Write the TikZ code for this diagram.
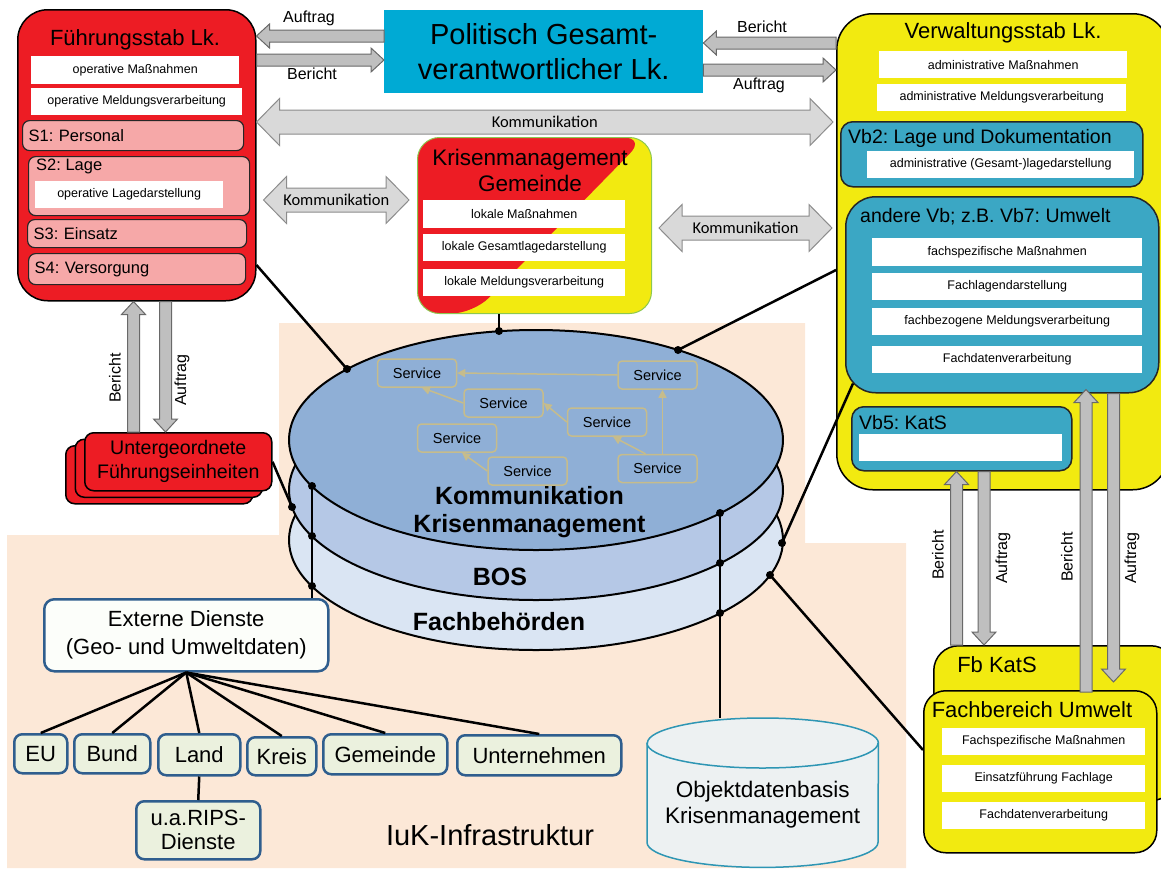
\documentclass[tikz,border=0pt]{standalone}
\usepackage{fontspec}
\setmainfont{Liberation Sans}
\newfontfamily\calibfont{Carlito}
\usetikzlibrary{arrows.meta,positioning,calc,shapes.geometric}
\definecolor{fsred}{RGB}{237,28,36}
\definecolor{fspink}{RGB}{246,168,168}
\definecolor{vwyellow}{RGB}{242,234,16}
\definecolor{vbteal}{RGB}{59,167,196}
\definecolor{polcyan}{RGB}{0,170,212}
\definecolor{iukpeach}{RGB}{252,232,215}
\definecolor{diskA}{RGB}{143,175,214}
\definecolor{diskB}{RGB}{181,200,230}
\definecolor{diskC}{RGB}{218,229,243}
\definecolor{svcline}{RGB}{198,188,140}
\definecolor{arrfill}{RGB}{191,191,191}
\definecolor{arrdraw}{RGB}{105,105,105}
\definecolor{komfill}{RGB}{217,217,217}
\definecolor{komdraw}{RGB}{140,140,140}
\definecolor{extblue}{RGB}{47,94,142}
\definecolor{extfill}{RGB}{252,254,250}
\definecolor{kidfill}{RGB}{235,241,222}
\definecolor{odbfill}{RGB}{237,241,242}
\definecolor{odbline}{RGB}{46,150,180}
\definecolor{kmggreen}{RGB}{140,200,80}
\frenchspacing

%% block arrow from #2 to #3 (tip at #3)
\newcommand{\blockarrow}[3][]{%
  \path[blockarr,#1] let \p1=(#2), \p2=(#3),
      \n1={atan2(\y2-\y1,\x2-\x1)}, \n2={veclen(\x2-\x1,\y2-\y1)} in
    ($(\p1)+(\n1+90:6pt)$)
    -- ($(\p1)+(\n1:\n2-13pt)+(\n1+90:6pt)$)
    -- ($(\p1)+(\n1:\n2-13pt)+(\n1+90:12pt)$)
    -- (\p2)
    -- ($(\p1)+(\n1:\n2-13pt)+(\n1-90:12pt)$)
    -- ($(\p1)+(\n1:\n2-13pt)+(\n1-90:6pt)$)
    -- ($(\p1)+(\n1-90:6pt)$) -- cycle;}
%% double block arrow between #2 and #3
\newcommand{\komarrow}[3][]{%
  \path[komarr,#1] let \p1=(#2), \p2=(#3),
      \n1={atan2(\y2-\y1,\x2-\x1)}, \n2={veclen(\x2-\x1,\y2-\y1)} in
    (\p1)
    -- ($(\p1)+(\n1:23pt)+(\n1+90:23.5pt)$)
    -- ($(\p1)+(\n1:23pt)+(\n1+90:12pt)$)
    -- ($(\p1)+(\n1:\n2-23pt)+(\n1+90:12pt)$)
    -- ($(\p1)+(\n1:\n2-23pt)+(\n1+90:23.5pt)$)
    -- (\p2)
    -- ($(\p1)+(\n1:\n2-23pt)+(\n1-90:23.5pt)$)
    -- ($(\p1)+(\n1:\n2-23pt)+(\n1-90:12pt)$)
    -- ($(\p1)+(\n1:23pt)+(\n1-90:12pt)$)
    -- ($(\p1)+(\n1:23pt)+(\n1-90:23.5pt)$)
    -- cycle;}

\begin{document}
\begin{tikzpicture}[x=1pt, y=-1pt,
  box/.style={anchor=north west, inner sep=0pt},
  redbox/.style={box, draw=black, line width=1.5pt, fill=fsred, rounded corners=30pt},
  pinkbox/.style={box, draw=black!85, line width=1.2pt, fill=fspink, rounded corners=7pt,
                  font=\fontsize{16.5}{19}\selectfont, align=left, inner xsep=6pt},
  stitle/.style={font=\fontsize{16.5}{19}\selectfont, inner sep=0pt},
  whitebox/.style={box, fill=white, font=\fontsize{12.5}{14}\selectfont},
  yelbox/.style={box, draw=black, line width=1.5pt, fill=vwyellow},
  tealbox/.style={box, draw=black!85, line width=1.5pt, fill=vbteal, rounded corners=12pt},
  ufebox/.style={box, draw=black, line width=1.5pt, fill=fsred, rounded corners=9pt,
                 minimum width=187pt, minimum height=58pt},
  title/.style={font=\fontsize{22}{26}\selectfont, inner sep=0pt},
  vbtitle/.style={font=\fontsize{19.5}{22}\selectfont, inner sep=0pt, anchor=west},
  disk/.style={ellipse, draw=black, line width=2pt, minimum width=494pt,
               minimum height=220pt, inner sep=0pt},
  disklbl/.style={font=\bfseries\fontsize{25}{28}\selectfont, align=center, inner sep=0pt},
  svc/.style={draw=svcline, line width=1.5pt, rounded corners=4pt, minimum width=79pt,
              minimum height=28pt, font=\fontsize{14.5}{16}\selectfont, inner sep=0pt},
  svcarr/.style={svcline, line width=1.5pt, -{Triangle[length=8pt, width=8pt]}},
  link/.style={line width=2.5pt, black},
  extbox/.style={box, draw=extblue, line width=2.5pt, rounded corners=10pt, fill=extfill,
                 font=\fontsize{22}{28}\selectfont, align=center},
  kid/.style={box, draw=extblue, line width=2.5pt, rounded corners=8pt, fill=kidfill,
              font=\fontsize{22}{24}\selectfont, align=center},
  blockarr/.style={fill=arrfill, draw=arrdraw, line width=1pt},
  komarr/.style={fill=komfill, draw=komdraw, line width=1pt},
  albl/.style={font=\fontsize{16}{18}\selectfont, inner sep=0pt},
  klbl/.style={font=\calibfont\fontsize{16.5}{18}\selectfont, inner sep=0pt},
]
\useasboundingbox (0,0) rectangle (1161,870);

%% IuK background
\fill[iukpeach] (279,323) -- (805,323) -- (805,543) -- (906,543) -- (906,868)
  -- (7,868) -- (7,535) -- (279,535) -- cycle;

%% communication layers
\node[disk, fill=diskC] (fbh) at (536,540) {};
\node[disk, fill=diskB] (bos) at (536,490) {};
\node[disk, fill=diskA] (kkm) at (536,440) {};
\node[disklbl] (kkmt) at (529.5,512) {Kommunikation\\Krisenmanagement};
\node[disklbl] (bost) at (500,577) {BOS};
\node[disklbl] (fbht) at (499,622) {Fachbehörden};

%% services
\node[svc] (sa) at (417,373) {Service};
\node[svc] (sb) at (503.5,403) {Service};
\node[svc] (sc) at (657.5,375) {Service};
\node[svc] (sd) at (607,422) {Service};
\node[svc] (se) at (457,438) {Service};
\node[svc] (sf) at (527.5,471) {Service};
\node[svc] (sg) at (657.5,468.5) {Service};
\draw[svcarr] (sc.west) -- (sa.east);
\draw[svcarr] (sb.west) -- ([xshift=5pt]sa.south);
\draw[svcarr] (sd.west) -- (sb.east);
\draw[svcarr] ([xshift=5pt]sg.north) -- ([xshift=5pt]sc.south);
\draw[svcarr] ([xshift=-12pt]sg.north) -- ([xshift=6pt]sd.south);
\draw[svcarr] (sf.west) -- ([xshift=5pt]se.south);

%% Fuehrungsstab
\node[redbox, minimum width=238pt, minimum height=291pt] (fs) at (17,9) {};
\node[title] (fst) at (135,40) {Führungsstab Lk.};
\node[whitebox, minimum width=208pt, minimum height=28pt] (fsm) at (31,56) {operative Maßnahmen};
\node[whitebox, minimum width=211pt, minimum height=27pt] (fsv) at (31,88) {operative Meldungsverarbeitung};
\node[pinkbox, text width=209pt, minimum height=30pt] (s1) at (22,120) {S1: Personal};
\node[pinkbox, minimum width=221pt, minimum height=59pt] (s2) at (28,156) {};
\node[stitle, below right=3pt and 8pt of s2.north west] (s2t) {S2: Lage};
\node[whitebox, minimum width=188pt, minimum height=27pt] (s2l) at (35,181) {operative Lagedarstellung};
\node[pinkbox, text width=207pt, minimum height=28pt] (s3) at (27,219) {S3: Einsatz};
\node[pinkbox, text width=205pt, minimum height=31pt] (s4) at (28,253) {S4: Versorgung};

%% Politisch Gesamtverantwortlicher
\node[box, fill=polcyan, minimum width=319pt, minimum height=83pt,
      font=\fontsize{29}{35}\selectfont, align=center] (pol) at (384,10)
  {Politisch Gesamt-\\verantwortlicher Lk.};

%% Verwaltungsstab
\node[yelbox, rounded corners=36pt, minimum width=332pt, minimum height=476pt] (vw) at (836,13) {};
\node[title] (vwt) at (1003,33) {Verwaltungsstab Lk.};
\node[whitebox, minimum width=248pt, minimum height=27pt] (vwm) at (879,51) {administrative Maßnahmen};
\node[whitebox, minimum width=249pt, minimum height=27pt] (vwv) at (877,84) {administrative Meldungsverarbeitung};
\node[tealbox, minimum width=302pt, minimum height=65pt] (vb2) at (840,121) {};
\node[vbtitle] (vb2t) at (848,138) {Vb2: Lage und Dokumentation};
\node[whitebox, minimum width=267pt, minimum height=27pt] (vb2l) at (867,151) {administrative (Gesamt-)lagedarstellung};
\node[tealbox, rounded corners=30pt, minimum width=313pt, minimum height=196pt] (vb7) at (845,196) {};
\node[vbtitle] (vb7t) at (860,217) {andere Vb; z.B. Vb7: Umwelt};
\node[whitebox, minimum width=270pt, minimum height=28pt] (vb7a) at (872,238) {fachspezifische Maßnahmen};
\node[whitebox, minimum width=270pt, minimum height=27pt] (vb7b) at (872,273) {Fachlagendarstellung};
\node[whitebox, minimum width=270pt, minimum height=27pt] (vb7c) at (872,308) {fachbezogene Meldungsverarbeitung};
\node[whitebox, minimum width=270pt, minimum height=27pt] (vb7d) at (872,346) {Fachdatenverarbeitung};
\node[tealbox, minimum width=220pt, minimum height=64pt] (vb5) at (851,406) {};
\node[vbtitle] (vb5t) at (859,423) {Vb5: KatS};
\node[whitebox, minimum width=203pt, minimum height=27pt] (vb5l) at (859,434) {};

%% Krisenmanagement Gemeinde
\node[box, minimum width=234pt, minimum height=176pt, rounded corners=22pt, fill=vwyellow,
      draw=kmggreen, line width=1pt,
      path picture={\fill[fsred] (path picture bounding box.north west)
        -- ([xshift=-6pt]path picture bounding box.north east)
        -- ([xshift=56pt]path picture bounding box.south west)
        -- (path picture bounding box.south west) -- cycle;}] (kmg) at (417,137) {};
\node[title, font=\fontsize{22.5}{26}\selectfont, align=center] (kmgt) at (530,170) {Krisenmanagement\\Gemeinde};
\node[whitebox, minimum width=202pt, minimum height=28pt] (kmga) at (423,200) {lokale Maßnahmen};
\node[whitebox, minimum width=202pt, minimum height=27pt] (kmgb) at (423,234) {lokale Gesamtlagedarstellung};
\node[whitebox, minimum width=202pt, minimum height=27pt] (kmgc) at (423,269) {lokale Meldungsverarbeitung};

%% Untergeordnete Fuehrungseinheiten
\node[ufebox] (ufe3) at (65,445) {};
\node[ufebox] (ufe2) at (74.5,438.5) {};
\node[ufebox, font=\fontsize{19.6}{24}\selectfont, align=center] (ufe) at (84,432)
  {Untergeordnete\\Führungseinheiten};

%% Externe Dienste
\node[extbox, minimum width=284pt, minimum height=72pt] (ext) at (43,598) {Externe Dienste\\(Geo- und Umweltdaten)};
\node[kid, minimum width=53pt, minimum height=39pt] (eu) at (13,733) {EU};
\node[kid, minimum width=76pt, minimum height=39pt] (bund) at (73,733) {Bund};
\node[kid, minimum width=82pt, minimum height=41pt] (land) at (157,733) {Land};
\node[kid, minimum width=69pt, minimum height=38pt] (kreis) at (246,736) {Kreis};
\node[kid, minimum width=124pt, minimum height=40pt] (gem) at (322,733) {Gemeinde};
\node[kid, minimum width=164pt, minimum height=40pt] (untn) at (456,734) {Unternehmen};
\node[kid, minimum width=124pt, minimum height=58pt] (rips) at (135,800) {u.a.RIPS-\\Dienste};
\foreach \k in {eu,bund,land,kreis,gem,untn}
  \draw[link] (ext.south) -- (\k.north);
\draw[link] (land.south) -- (rips.north);

\node[font=\fontsize{29}{34}\selectfont, inner sep=0pt] (iuk) at (490,835) {IuK-Infrastruktur};

%% Objektdatenbasis
\node[box, minimum width=231pt, minimum height=149pt] (odb) at (647,718) {};
\path[fill=odbfill, draw=odbline, line width=1.5pt]
  ([yshift=-25pt]odb.north west) -- ([yshift=25pt]odb.south west)
  arc[start angle=180, end angle=360, x radius=115.5pt, y radius=25pt]
  -- ([yshift=-25pt]odb.north east)
  arc[start angle=0, end angle=180, x radius=115.5pt, y radius=25pt] -- cycle;
\draw[odbline, line width=1.5pt] ([yshift=-25pt]odb.north west)
  arc[start angle=180, end angle=360, x radius=115.5pt, y radius=25pt];
\node[font=\fontsize{22.5}{26}\selectfont, align=center, inner sep=0pt] (odbt)
  at ($(odb.center)+(0,12)$) {Objektdatenbasis\\Krisenmanagement};

%% Fb KatS and Fachbereich Umwelt
\node[yelbox, rounded corners=25pt, minimum width=242pt, minimum height=155pt] (fbk) at (933,645) {};
\node[title] (fbkt) at (997,665) {Fb KatS};
\node[yelbox, rounded corners=22pt, minimum width=233pt, minimum height=162pt] (fbu) at (923,690) {};
\node[title] (fbut) at (1032,710) {Fachbereich Umwelt};
\node[whitebox, minimum width=203pt, minimum height=27pt] (fbua) at (942,728) {Fachspezifische Maßnahmen};
\node[whitebox, minimum width=203pt, minimum height=27pt] (fbub) at (942,765) {Einsatzführung Fachlage};
\node[whitebox, minimum width=203pt, minimum height=27pt] (fbuc) at (942,802) {Fachdatenverarbeitung};

%% links to the communication layers
\coordinate (d1) at (347,369);
\coordinate (d2) at (499,331);
\coordinate (d3) at (678,350);
\coordinate (d4) at (292,507);
\coordinate (d5) at (312,486);
\coordinate (d6) at (312,536);
\coordinate (d7) at (312,586);
\coordinate (d8) at (720,513);
\coordinate (d9) at (720,563);
\coordinate (d10) at (720,613);
\coordinate (d11) at (782,543);
\coordinate (d12) at (770,575);
\draw[link] (fs.east |- 0,265) -- (d1);
\draw[link] (d2 |- kmg.south) -- (d2);
\draw[link] (vw.west |- 0,270) -- (d3);
\draw[link] (ufe.east) -- (d4);
\draw[link] (d5) -- (d5 |- ext.north);
\draw[link] (d8) -- (d8 |- odb.north);
\draw[link] ($(vb7.south west)+(8,-10)$) -- (d11);
\draw[link] (d12) -- (fbu.west |- 0,750);
\foreach \d in {d1,d2,d3,d4,d5,d6,d7,d8,d9,d10,d11,d12}
  \fill (\d) circle[radius=4pt];

%% Auftrag / Bericht arrows
\coordinate (a1s) at (pol.west |- 0,36);  \coordinate (a1e) at (fs.east |- 0,36);
\coordinate (b1s) at (fs.east |- 0,60);   \coordinate (b1e) at (pol.west |- 0,60);
\coordinate (b2s) at (vw.west |- 0,43);   \coordinate (b2e) at (pol.east |- 0,43);
\coordinate (a2s) at (pol.east |- 0,70);  \coordinate (a2e) at (vw.west |- 0,70);
\blockarrow{a1s}{a1e}
\blockarrow{b1s}{b1e}
\blockarrow{b2s}{b2e}
\blockarrow{a2s}{a2e}
\node[albl] at (309,18) {Auftrag};
\node[albl] at (312,74) {Bericht};
\node[albl] at (762,27) {Bericht};
\node[albl] at (759,85) {Auftrag};

\coordinate (b3s) at (ufe.north -| 133.5,0); \coordinate (b3e) at (fs.south -| 133.5,0);
\coordinate (a3s) at (fs.south -| 165.5,0);  \coordinate (a3e) at (ufe.north -| 165.5,0);
\blockarrow{b3s}{b3e}
\blockarrow{a3s}{a3e}
\node[albl, rotate=90] at (115,378) {Bericht};
\node[albl, rotate=90] at (182,380) {Auftrag};

\coordinate (b4s) at (fbk.north -| 956.5,0); \coordinate (b4e) at (vb5.south -| 956.5,0);
\coordinate (a4s) at (vb5.south -| 984,0);   \coordinate (a4e) at (fbk.north -| 984,0);
\coordinate (b5s) at ($(fbu.north -| 1086,0)+(0,2)$); \coordinate (b5e) at ($(vb7.south -| 1086,0)+(0,-4)$);
\coordinate (a5s) at (vb7.south -| 1113.5,0); \coordinate (a5e) at ($(fbu.north -| 1113.5,0)+(0,-8)$);
\blockarrow{b4s}{b4e}
\blockarrow{a4s}{a4e}
\blockarrow{b5s}{b5e}
\blockarrow{a5s}{a5e}
\node[albl, rotate=90] at (938,555) {Bericht};
\node[albl, rotate=90] at (1003,558) {Auftrag};
\node[albl, rotate=90] at (1067,557) {Bericht};
\node[albl, rotate=90] at (1132,558) {Auftrag};

%% Kommunikation arrows
\coordinate (k1a) at (fs.east |- 0,122);             \coordinate (k1b) at ($(vw.west |- 0,122)+(-3,0)$);
\coordinate (k2a) at ($(fs.east |- 0,200)+(7,0)$);   \coordinate (k2b) at ($(kmg.west |- 0,200)+(-8,0)$);
\coordinate (k3a) at ($(kmg.east |- 0,228)+(7,0)$);  \coordinate (k3b) at ($(vw.west |- 0,228)+(-4,0)$);
\komarrow{k1a}{k1b}
\komarrow{k2a}{k2b}
\komarrow{k3a}{k3b}
\node[klbl] at ($(k1a)!0.5!(k1b)$) {Kommunikation};
\node[klbl] at ($(k2a)!0.5!(k2b)$) {Kommunikation};
\node[klbl] at ($(k3a)!0.5!(k3b)$) {Kommunikation};

\end{tikzpicture}
\end{document}
